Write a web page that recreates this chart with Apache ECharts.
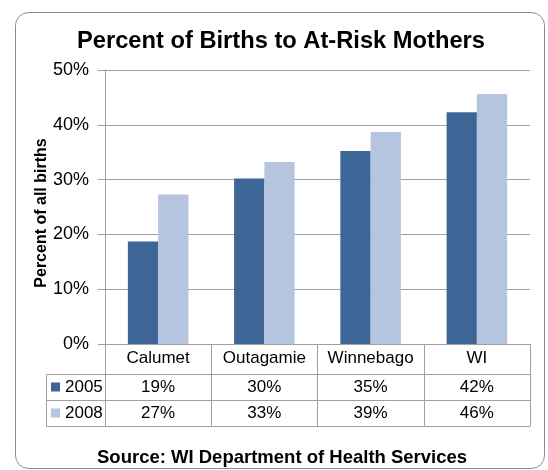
<!DOCTYPE html>
<html>
<head>
<meta charset="utf-8">
<script src="https://cdn.jsdelivr.net/npm/echarts@6/dist/echarts.min.js"></script>
<style>
  html, body { margin: 0; padding: 0; background: #fff; }
  #main { width: 548px; height: 470px; }
</style>
</head>
<body>
<div id="main"></div>
<script>
var categories = ['Calumet', 'Outagamie', 'Winnebago', 'WI'];
var seriesNames = ['2005', '2008'];
var values2005 = [18.7, 30.2, 35.2, 42.3];
var values2008 = [27.3, 33.2, 38.7, 45.6];
var labels2005 = ['19%', '30%', '35%', '42%'];
var labels2008 = ['27%', '33%', '39%', '46%'];
var yTicks = [0, 10, 20, 30, 40, 50];

var font = 'Arial, "Liberation Sans", sans-serif';
var lineColor = '#a0a0a0';

var myChart = echarts.init(document.getElementById('main'));

function tableAxis(data, offset, showTick, margin) {
    return {
        type: 'category',
        position: 'bottom',
        offset: offset,
        data: data,
        axisLine: { show: true, onZero: false, lineStyle: { color: lineColor, width: 1 } },
        axisTick: { show: showTick, interval: 0, length: 26, lineStyle: { color: lineColor } },
        axisLabel: { show: true, interval: 0, margin: margin, fontSize: 17, color: '#000', fontFamily: font },
        splitLine: { show: false }
    };
}

var option = {
    animation: false,
    title: [
        {
            text: 'Percent of Births to At-Risk Mothers',
            left: 77,
            top: 29,
            padding: 0,
            textStyle: { fontSize: 23.7, fontWeight: 'bold', color: '#000', fontFamily: font }
        },
        {
            text: 'Source: WI Department of Health Services',
            left: 97,
            top: 448,
            padding: 0,
            textStyle: { fontSize: 18.5, fontWeight: 'bold', color: '#000', fontFamily: font }
        }
    ],
    legend: {
        orient: 'vertical',
        left: 51,
        top: 378,
        padding: 0,
        itemWidth: 9,
        itemHeight: 9,
        itemGap: 8,
        icon: 'rect',
        data: seriesNames,
        textStyle: { fontSize: 17, color: '#000', fontFamily: font, lineHeight: 18, padding: [0, 0, 0, 0] }
    },
    grid: { left: 105, right: 18, top: 70, bottom: 126 },
    xAxis: [
        {
            type: 'category',
            position: 'bottom',
            data: categories,
            axisLine: { show: true, onZero: false, lineStyle: { color: lineColor, width: 1 } },
            axisTick: { show: true, interval: 0, length: 30, lineStyle: { color: lineColor } },
            axisLabel: { interval: 0, margin: 6, fontSize: 17, color: '#000', fontFamily: font }
        },
        tableAxis(labels2005, 30, true, 5),
        tableAxis(labels2008, 56, true, 5),
        tableAxis(['', '', '', ''], 82, false, 5)
    ],
    yAxis: {
        type: 'value',
        min: yTicks[0],
        max: yTicks[yTicks.length - 1],
        interval: 10,
        name: 'Percent of all births',
        nameLocation: 'middle',
        nameGap: 55,
        nameMoveOverlap: false,
        nameTextStyle: { fontSize: 16, fontWeight: 'bold', color: '#000', fontFamily: font, padding: [0, 12, 0, 0] },
        axisLine: { show: true, lineStyle: { color: lineColor } },
        axisTick: { show: true, length: 7, lineStyle: { color: lineColor } },
        axisLabel: { formatter: '{value}%', margin: 16, fontSize: 18, color: '#000', fontFamily: font },
        splitLine: { show: true, lineStyle: { color: lineColor, width: 1 } }
    },
    series: [
        {
            name: seriesNames[0],
            type: 'bar',
            data: values2005,
            barGap: '0%',
            barCategoryGap: '43%',
            itemStyle: { color: '#3d6596' }
        },
        {
            name: seriesNames[1],
            type: 'bar',
            data: values2008,
            itemStyle: { color: '#b5c4df' }
        }
    ],
    graphic: [
        {
            type: 'rect',
            shape: { x: 15.5, y: 12.5, width: 529, height: 456, r: 13 },
            style: { fill: null, stroke: '#8c8c8c', lineWidth: 1 },
            silent: true
        },
        {
            type: 'polyline',
            shape: { points: [[105, 374.5], [46.5, 374.5], [46.5, 426.5], [105, 426.5]] },
            style: { fill: null, stroke: lineColor, lineWidth: 1 },
            silent: true
        },
        {
            type: 'line',
            shape: { x1: 46.5, y1: 400.5, x2: 105, y2: 400.5 },
            style: { stroke: lineColor, lineWidth: 1 },
            silent: true
        }
    ]
};

myChart.setOption(option);
</script>
</body>
</html>
